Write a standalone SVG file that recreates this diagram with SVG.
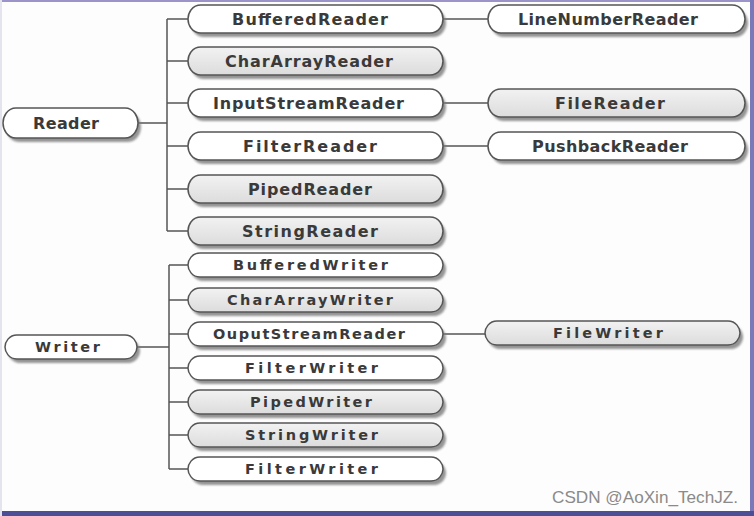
<svg xmlns="http://www.w3.org/2000/svg" width="754" height="516" viewBox="0 0 754 516">
<defs>
<style>
.sh{fill:#7a7a7a;opacity:0.8}
.w{fill:#ffffff;stroke:#555;stroke-width:1.5}
.g{fill:url(#gg);stroke:#555;stroke-width:1.5}
.t1{font-family:"DejaVu Sans",sans-serif;font-size:16px;font-weight:bold;fill:#3a3a3a}
.t2{font-family:"DejaVu Sans",sans-serif;font-size:14.5px;font-weight:bold;fill:#3a3a3a}
.c{fill:none;stroke:#555;stroke-width:1.5}
</style>
<linearGradient id="gg" x1="0" y1="0" x2="0" y2="1">
<stop offset="0" stop-color="#f2f2f2"/>
<stop offset="1" stop-color="#dcdcdc"/>
</linearGradient>
<filter id="bl" x="-5%" y="-20%" width="110%" height="140%"><feGaussianBlur stdDeviation="0.8"/></filter>
</defs>
<rect x="0" y="0" width="754" height="516" fill="#fdfdfd"/>
<rect x="0" y="0" width="754" height="2" fill="#9a94c8"/>
<rect x="750" y="0" width="4" height="516" fill="#7a78b8"/>
<rect x="0" y="511" width="754" height="5" fill="#4d4f96"/>
<rect x="0" y="0" width="2" height="516" fill="#e4e4ee"/>

<g id="connectors">
<path class="c" d="M138 123H167M167 19V231M167 19H188M167 61H188M167 103H188M167 146H188M167 189H188M167 231H188"/>
<path class="c" d="M443 19H488M443 103H488M443 146H488"/>
<path class="c" d="M137 347H169M169 265V469M169 265H188M169 300H188M169 334H188M169 368H188M169 402H188M169 435H188M169 469H188"/>
<path class="c" d="M443 334H485"/>
</g>

<g id="reader">
<path class="sh" filter="url(#bl)" transform="translate(3,4)" d="M16 108H125C134 108 138 117 138 123C138 129 134 138 125 138H16C7 138 3 129 3 123C3 117 7 108 16 108Z"/>
<path class="w" d="M16 108H125C134 108 138 117 138 123C138 129 134 138 125 138H16C7 138 3 129 3 123C3 117 7 108 16 108Z"/>
<text class="t1" x="33" y="129" textLength="66" lengthAdjust="spacing">Reader</text>
</g>

<g id="bufferedreader">
<path class="sh" filter="url(#bl)" transform="translate(3,4)" d="M201 5H430C439 5 443 13 443 19C443 25 439 33 430 33H201C192 33 188 25 188 19C188 13 192 5 201 5Z"/>
<path class="w" d="M201 5H430C439 5 443 13 443 19C443 25 439 33 430 33H201C192 33 188 25 188 19C188 13 192 5 201 5Z"/>
<text class="t1" x="232" y="25" textLength="156" lengthAdjust="spacing">BufferedReader</text>
</g>

<g id="chararrayreader">
<path class="sh" filter="url(#bl)" transform="translate(3,4)" d="M201 47H430C439 47 443 55 443 61C443 67 439 75 430 75H201C192 75 188 67 188 61C188 55 192 47 201 47Z"/>
<path class="g" d="M201 47H430C439 47 443 55 443 61C443 67 439 75 430 75H201C192 75 188 67 188 61C188 55 192 47 201 47Z"/>
<text class="t1" x="225" y="67" textLength="168" lengthAdjust="spacing">CharArrayReader</text>
</g>

<g id="inputstreamreader">
<path class="sh" filter="url(#bl)" transform="translate(3,4)" d="M201 89H430C439 89 443 97 443 103C443 109 439 117 430 117H201C192 117 188 109 188 103C188 97 192 89 201 89Z"/>
<path class="w" d="M201 89H430C439 89 443 97 443 103C443 109 439 117 430 117H201C192 117 188 109 188 103C188 97 192 89 201 89Z"/>
<text class="t1" x="213" y="109" textLength="191" lengthAdjust="spacing">InputStreamReader</text>
</g>

<g id="filterreader">
<path class="sh" filter="url(#bl)" transform="translate(3,4)" d="M201 132H430C439 132 443 140 443 146C443 152 439 160 430 160H201C192 160 188 152 188 146C188 140 192 132 201 132Z"/>
<path class="w" d="M201 132H430C439 132 443 140 443 146C443 152 439 160 430 160H201C192 160 188 152 188 146C188 140 192 132 201 132Z"/>
<text class="t1" x="243" y="152" textLength="134" lengthAdjust="spacing">FilterReader</text>
</g>

<g id="pipedreader">
<path class="sh" filter="url(#bl)" transform="translate(3,4)" d="M201 175H430C439 175 443 183 443 189C443 195 439 203 430 203H201C192 203 188 195 188 189C188 183 192 175 201 175Z"/>
<path class="g" d="M201 175H430C439 175 443 183 443 189C443 195 439 203 430 203H201C192 203 188 195 188 189C188 183 192 175 201 175Z"/>
<text class="t1" x="248" y="195" textLength="124" lengthAdjust="spacing">PipedReader</text>
</g>

<g id="stringreader">
<path class="sh" filter="url(#bl)" transform="translate(3,4)" d="M201 217H430C439 217 443 225 443 231C443 237 439 245 430 245H201C192 245 188 237 188 231C188 225 192 217 201 217Z"/>
<path class="g" d="M201 217H430C439 217 443 225 443 231C443 237 439 245 430 245H201C192 245 188 237 188 231C188 225 192 217 201 217Z"/>
<text class="t1" x="242" y="237" textLength="136" lengthAdjust="spacing">StringReader</text>
</g>

<g id="linenumberreader">
<path class="sh" filter="url(#bl)" transform="translate(3,4)" d="M501 5H732C741 5 745 13 745 19C745 25 741 33 732 33H501C492 33 488 25 488 19C488 13 492 5 501 5Z"/>
<path class="w" d="M501 5H732C741 5 745 13 745 19C745 25 741 33 732 33H501C492 33 488 25 488 19C488 13 492 5 501 5Z"/>
<text class="t1" x="518" y="25" textLength="180" lengthAdjust="spacing">LineNumberReader</text>
</g>

<g id="filereader">
<path class="sh" filter="url(#bl)" transform="translate(3,4)" d="M501 89H732C741 89 745 97 745 103C745 109 741 117 732 117H501C492 117 488 109 488 103C488 97 492 89 501 89Z"/>
<path class="g" d="M501 89H732C741 89 745 97 745 103C745 109 741 117 732 117H501C492 117 488 109 488 103C488 97 492 89 501 89Z"/>
<text class="t1" x="555" y="109" textLength="110" lengthAdjust="spacing">FileReader</text>
</g>

<g id="pushbackreader">
<path class="sh" filter="url(#bl)" transform="translate(3,4)" d="M501 132H732C741 132 745 140 745 146C745 152 741 160 732 160H501C492 160 488 152 488 146C488 140 492 132 501 132Z"/>
<path class="w" d="M501 132H732C741 132 745 140 745 146C745 152 741 160 732 160H501C492 160 488 152 488 146C488 140 492 132 501 132Z"/>
<text class="t1" x="532" y="152" textLength="156" lengthAdjust="spacing">PushbackReader</text>
</g>

<g id="writer">
<path class="sh" filter="url(#bl)" transform="translate(3,4)" d="M17 335H125C133 335 137 342 137 347C137 352 133 359 125 359H17C9 359 5 352 5 347C5 342 9 335 17 335Z"/>
<path class="w" d="M17 335H125C133 335 137 342 137 347C137 352 133 359 125 359H17C9 359 5 352 5 347C5 342 9 335 17 335Z"/>
<text class="t2" x="35" y="352" textLength="65" lengthAdjust="spacing">Writer</text>
</g>

<g id="bufferedwriter">
<path class="sh" filter="url(#bl)" transform="translate(3,4)" d="M200 253H431C439 253 443 260 443 265C443 270 439 277 431 277H200C192 277 188 270 188 265C188 260 192 253 200 253Z"/>
<path class="w" d="M200 253H431C439 253 443 260 443 265C443 270 439 277 431 277H200C192 277 188 270 188 265C188 260 192 253 200 253Z"/>
<text class="t2" x="233" y="270" textLength="155" lengthAdjust="spacing">BufferedWriter</text>
</g>

<g id="chararraywriter">
<path class="sh" filter="url(#bl)" transform="translate(3,4)" d="M200 288H431C439 288 443 295 443 300C443 305 439 312 431 312H200C192 312 188 305 188 300C188 295 192 288 200 288Z"/>
<path class="g" d="M200 288H431C439 288 443 295 443 300C443 305 439 312 431 312H200C192 312 188 305 188 300C188 295 192 288 200 288Z"/>
<text class="t2" x="227" y="305" textLength="166" lengthAdjust="spacing">CharArrayWriter</text>
</g>

<g id="ouputstreamreader">
<path class="sh" filter="url(#bl)" transform="translate(3,4)" d="M200 322H431C439 322 443 329 443 334C443 339 439 346 431 346H200C192 346 188 339 188 334C188 329 192 322 200 322Z"/>
<path class="w" d="M200 322H431C439 322 443 329 443 334C443 339 439 346 431 346H200C192 346 188 339 188 334C188 329 192 322 200 322Z"/>
<text class="t2" x="213" y="339" textLength="192" lengthAdjust="spacing">OuputStreamReader</text>
</g>

<g id="filterwriter">
<path class="sh" filter="url(#bl)" transform="translate(3,4)" d="M200 356H431C439 356 443 363 443 368C443 373 439 380 431 380H200C192 380 188 373 188 368C188 363 192 356 200 356Z"/>
<path class="w" d="M200 356H431C439 356 443 363 443 368C443 373 439 380 431 380H200C192 380 188 373 188 368C188 363 192 356 200 356Z"/>
<text class="t2" x="245" y="373" textLength="133" lengthAdjust="spacing">FilterWriter</text>
</g>

<g id="pipedwriter">
<path class="sh" filter="url(#bl)" transform="translate(3,4)" d="M200 390H431C439 390 443 397 443 402C443 407 439 414 431 414H200C192 414 188 407 188 402C188 397 192 390 200 390Z"/>
<path class="g" d="M200 390H431C439 390 443 397 443 402C443 407 439 414 431 414H200C192 414 188 407 188 402C188 397 192 390 200 390Z"/>
<text class="t2" x="250" y="407" textLength="122" lengthAdjust="spacing">PipedWriter</text>
</g>

<g id="stringwriter">
<path class="sh" filter="url(#bl)" transform="translate(3,4)" d="M200 423H431C439 423 443 430 443 435C443 440 439 447 431 447H200C192 447 188 440 188 435C188 430 192 423 200 423Z"/>
<path class="g" d="M200 423H431C439 423 443 430 443 435C443 440 439 447 431 447H200C192 447 188 440 188 435C188 430 192 423 200 423Z"/>
<text class="t2" x="245" y="440" textLength="133" lengthAdjust="spacing">StringWriter</text>
</g>

<g id="filterwriter2">
<path class="sh" filter="url(#bl)" transform="translate(3,4)" d="M200 457H431C439 457 443 464 443 469C443 474 439 481 431 481H200C192 481 188 474 188 469C188 464 192 457 200 457Z"/>
<path class="w" d="M200 457H431C439 457 443 464 443 469C443 474 439 481 431 481H200C192 481 188 474 188 469C188 464 192 457 200 457Z"/>
<text class="t2" x="245" y="474" textLength="133" lengthAdjust="spacing">FilterWriter</text>
</g>

<g id="filewriter">
<path class="sh" filter="url(#bl)" transform="translate(3,4)" d="M497 321H728C736 321 740 328 740 333C740 338 736 345 728 345H497C489 345 485 338 485 333C485 328 489 321 497 321Z"/>
<path class="g" d="M497 321H728C736 321 740 328 740 333C740 338 736 345 728 345H497C489 345 485 338 485 333C485 328 489 321 497 321Z"/>
<text class="t2" x="553" y="338" textLength="110" lengthAdjust="spacing">FileWriter</text>
</g>

<text x="552" y="503" font-family="Liberation Sans, sans-serif" font-size="17" fill="#8a8a8a" textLength="186" lengthAdjust="spacingAndGlyphs">CSDN @AoXin_TechJZ.</text>
</svg>
